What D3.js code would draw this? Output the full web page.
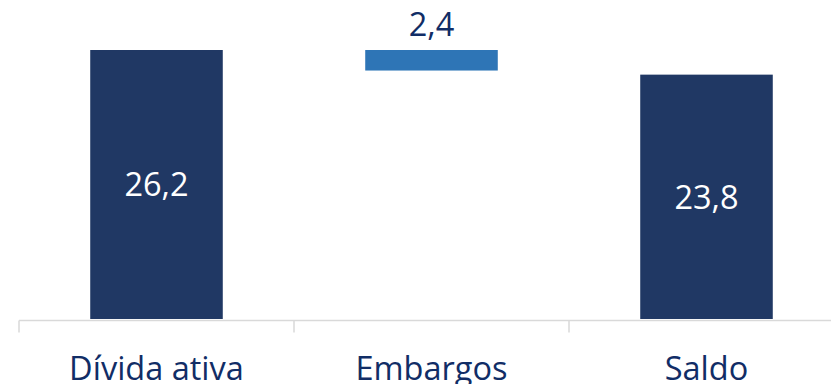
<!DOCTYPE html>
<html>
<head>
<meta charset="utf-8">
<script src="https://cdn.jsdelivr.net/npm/d3@7/dist/d3.min.js"></script>
<style>
  html, body { margin: 0; padding: 0; background: #ffffff; }
  svg { display: block; }
  text { font-family: "Open Sans", "Noto Sans", sans-serif; }
</style>
</head>
<body>
<svg id="chart" width="831" height="384"></svg>
<script>
// ---- data ----
const categories = ["Dívida ativa", "Embargos", "Saldo"];
const barStart   = [0, 24.2, 0];      // bottom of each bar
const barEnd     = [26.2, 26.2, 23.8]; // top of each bar
const valueLabels = ["26,2", "2,4", "23,8"];
const barKinds   = ["total", "delta", "total"];

// ---- layout ----
const W = 831, H = 384;
const svg = d3.select("#chart");

const x = d3.scaleBand()
  .domain(categories)
  .range([19, 19 + 275 * categories.length])
  .padding(0);

const y = d3.scaleLinear()
  .domain([0, 26.2])
  .range([319, 50]);

const barW = x.bandwidth() * 0.482;
const colors = { total: "#203864", delta: "#2E75B6" };
const textNavy = "#112d66";

const data = categories.map((c, i) => ({
  cat: c, start: barStart[i], end: barEnd[i], label: valueLabels[i], kind: barKinds[i]
}));

// bars
svg.append("g").selectAll("rect")
  .data(data)
  .join("rect")
  .attr("x", d => x(d.cat) + x.bandwidth() / 2 - barW / 2)
  .attr("y", d => y(d.end))
  .attr("width", barW)
  .attr("height", d => y(d.start) - y(d.end))
  .attr("fill", d => colors[d.kind]);

// x axis
const axis = d3.axisBottom(x).tickSize(0).tickFormat("");
const gx = svg.append("g")
  .attr("transform", `translate(0, ${y(0) + 1.5})`)
  .call(axis);
gx.select(".domain").remove();
gx.append("line")
  .attr("x1", 19).attr("x2", W)
  .attr("y1", 0).attr("y2", 0)
  .attr("stroke", "#d9d9d9").attr("stroke-width", 1.5);
// boundary ticks
const boundaries = categories.map(c => x(c));
gx.selectAll(".bt")
  .data(boundaries)
  .join("line")
  .attr("class", "bt")
  .attr("x1", d => d).attr("x2", d => d)
  .attr("y1", 0).attr("y2", 12)
  .attr("stroke", "#d9d9d9").attr("stroke-width", 1.5);

// category labels
svg.append("g").selectAll("text")
  .data(data)
  .join("text")
  .attr("x", d => x(d.cat) + x.bandwidth() / 2)
  .attr("y", 380)
  .attr("text-anchor", "middle")
  .attr("font-size", 32.5)
  .attr("fill", textNavy)
  .text(d => d.cat);

// value labels
svg.append("g").selectAll("text")
  .data(data)
  .join("text")
  .attr("x", d => x(d.cat) + x.bandwidth() / 2)
  .attr("y", d => d.kind === "total" ? (y(d.end) + y(d.start)) / 2 : y(d.end) - 14)
  .attr("dy", d => d.kind === "total" ? "0.36em" : 0)
  .attr("text-anchor", "middle")
  .attr("font-size", 32.5)
  .attr("fill", d => d.kind === "total" ? "#ffffff" : textNavy)
  .text(d => d.label);
</script>
</body>
</html>
